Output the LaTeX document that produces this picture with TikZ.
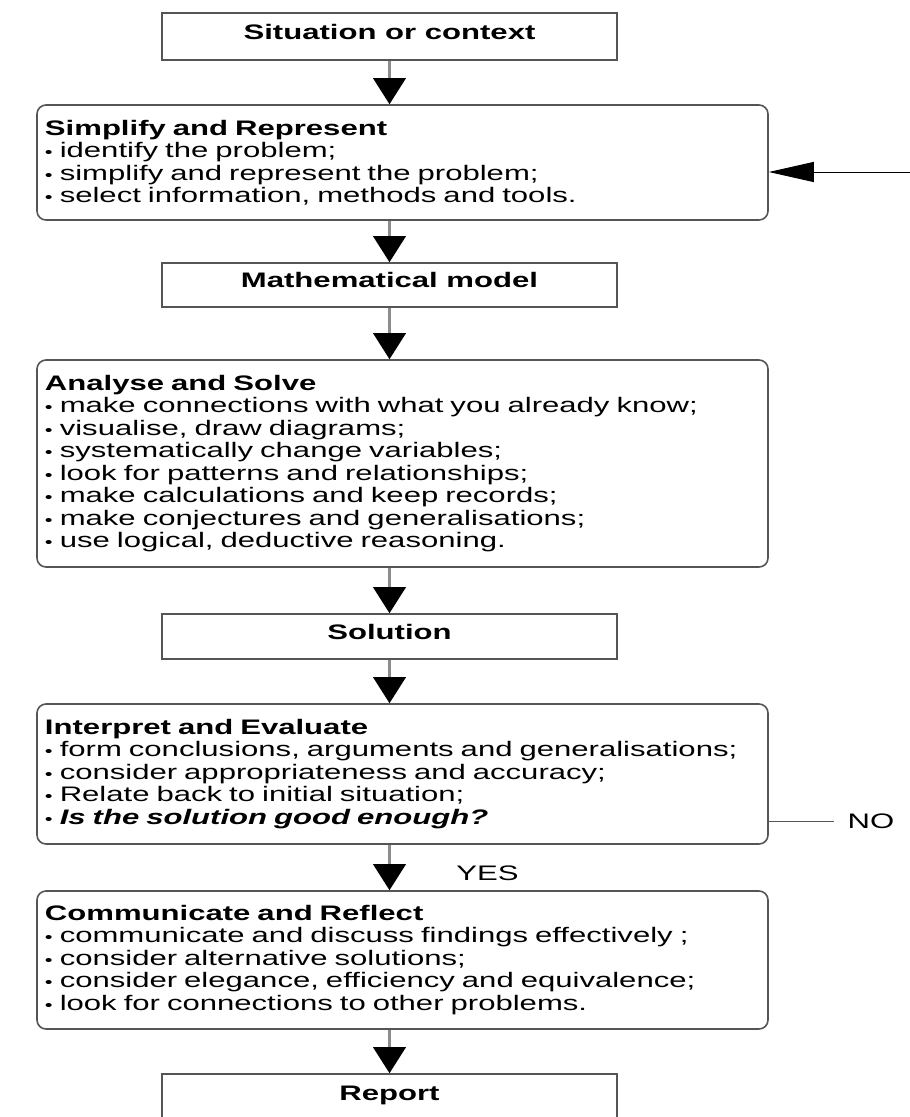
\documentclass[tikz,border=0pt]{standalone}
\usepackage{fontspec}
\setmainfont[FakeStretch=1.48]{Liberation Sans}
\usetikzlibrary{arrows.meta}
\definecolor{BoxEdge}{HTML}{555555}
\definecolor{ShaftGrey}{HTML}{8C8C8C}
\newcommand{\bul}{{\fontsize{15}{15}\selectfont\textbullet}\ }
\tikzset{
    plainbox/.style={draw=BoxEdge, line width=1.6pt, minimum width=455pt, inner sep=0pt,
        font=\fontsize{21}{22.5}\selectfont\bfseries, text height=15pt, text depth=10pt},
    stagebox/.style={draw=BoxEdge, line width=1.6pt, rounded corners=9pt, minimum width=731pt,
        text width=715pt, inner xsep=8pt, align=left},
    flow/.style={ShaftGrey, line width=3pt,
        -{Triangle[length=26pt, width=33pt, color=black, line width=0pt]}},
}

\begin{document}
\begin{tikzpicture}[x=1pt, y=-1pt, font=\fontsize{21}{22.5}\selectfont]
    \useasboundingbox (0,0) rectangle (910,1117);

    % Situation box
    \node[plainbox, minimum height=47pt] (situation) at (389.5,36.5) {Situation or context};

    % Simplify and Represent
    \node[stagebox, minimum height=115pt] (simplify) at (402.5,162.5) {\textbf{Simplify and Represent}\\
        \bul identify the problem;\\
        \bul simplify and represent the problem;\\
        \bul select information, methods and tools.};

    % Mathematical model
    \node[plainbox, minimum height=44pt] (model) at (389.5,285) {Mathematical model};

    % Analyse and Solve
    \node[stagebox, minimum height=207pt] (analyse) at (402.5,463.5) {\textbf{Analyse and Solve}\\
        \bul make connections with what you already know;\\
        \bul visualise, draw diagrams;\\
        \bul systematically change variables;\\
        \bul look for patterns and relationships;\\
        \bul make calculations and keep records;\\
        \bul make conjectures and generalisations;\\
        \bul use logical, deductive reasoning.};

    % Solution
    \node[plainbox, minimum height=45pt] (solution) at (389.5,636.5) {Solution};

    % Interpret and Evaluate
    \node[stagebox, minimum height=140pt] (interpret) at (402.5,774) {\textbf{Interpret and Evaluate}\\
        \bul form conclusions, arguments and generalisations;\\
        \bul consider appropriateness and accuracy;\\
        \bul Relate back to initial situation;\\
        \bul \textbf{\textit{Is the solution good enough?}}};

    % Communicate and Reflect
    \node[stagebox, minimum height=138pt] (communicate) at (402.5,960) {\textbf{Communicate and Reflect}\\
        \bul communicate and discuss findings effectively ;\\
        \bul consider alternative solutions;\\
        \bul consider elegance, efficiency and equivalence;\\
        \bul look for connections to other problems.};

    % Report (runs off the bottom)
    \node[plainbox, minimum height=47pt] (report) at (389.5,1097.5) {Report};

    % Downward flow
    \draw[flow] (situation.south) -- (situation.south |- simplify.north);
    \draw[flow] (simplify.south -| model.north) -- (model.north);
    \draw[flow] (model.south) -- (model.south |- analyse.north);
    \draw[flow] (analyse.south -| solution.north) -- (solution.north);
    \draw[flow] (solution.south) -- (solution.south |- interpret.north);
    \draw[flow] (interpret.south -| report.north) -- (report.north |- communicate.north);
    \draw[flow] (communicate.south -| report.north) -- (report.north);

    % Decision labels
    \node (yes) at (487.5,873) {YES};
    \node[inner xsep=13pt] (no) at (871,821) {NO};
    \draw[BoxEdge, line width=1pt] (interpret.east |- no.west) -- (no.west);

    % Loop back in
    \coordinate (loopin) at (910,172);
    \draw[line width=1pt, -{Triangle[length=45pt, width=20pt]}] (loopin) -- (loopin -| simplify.east);
\end{tikzpicture}
\end{document}
